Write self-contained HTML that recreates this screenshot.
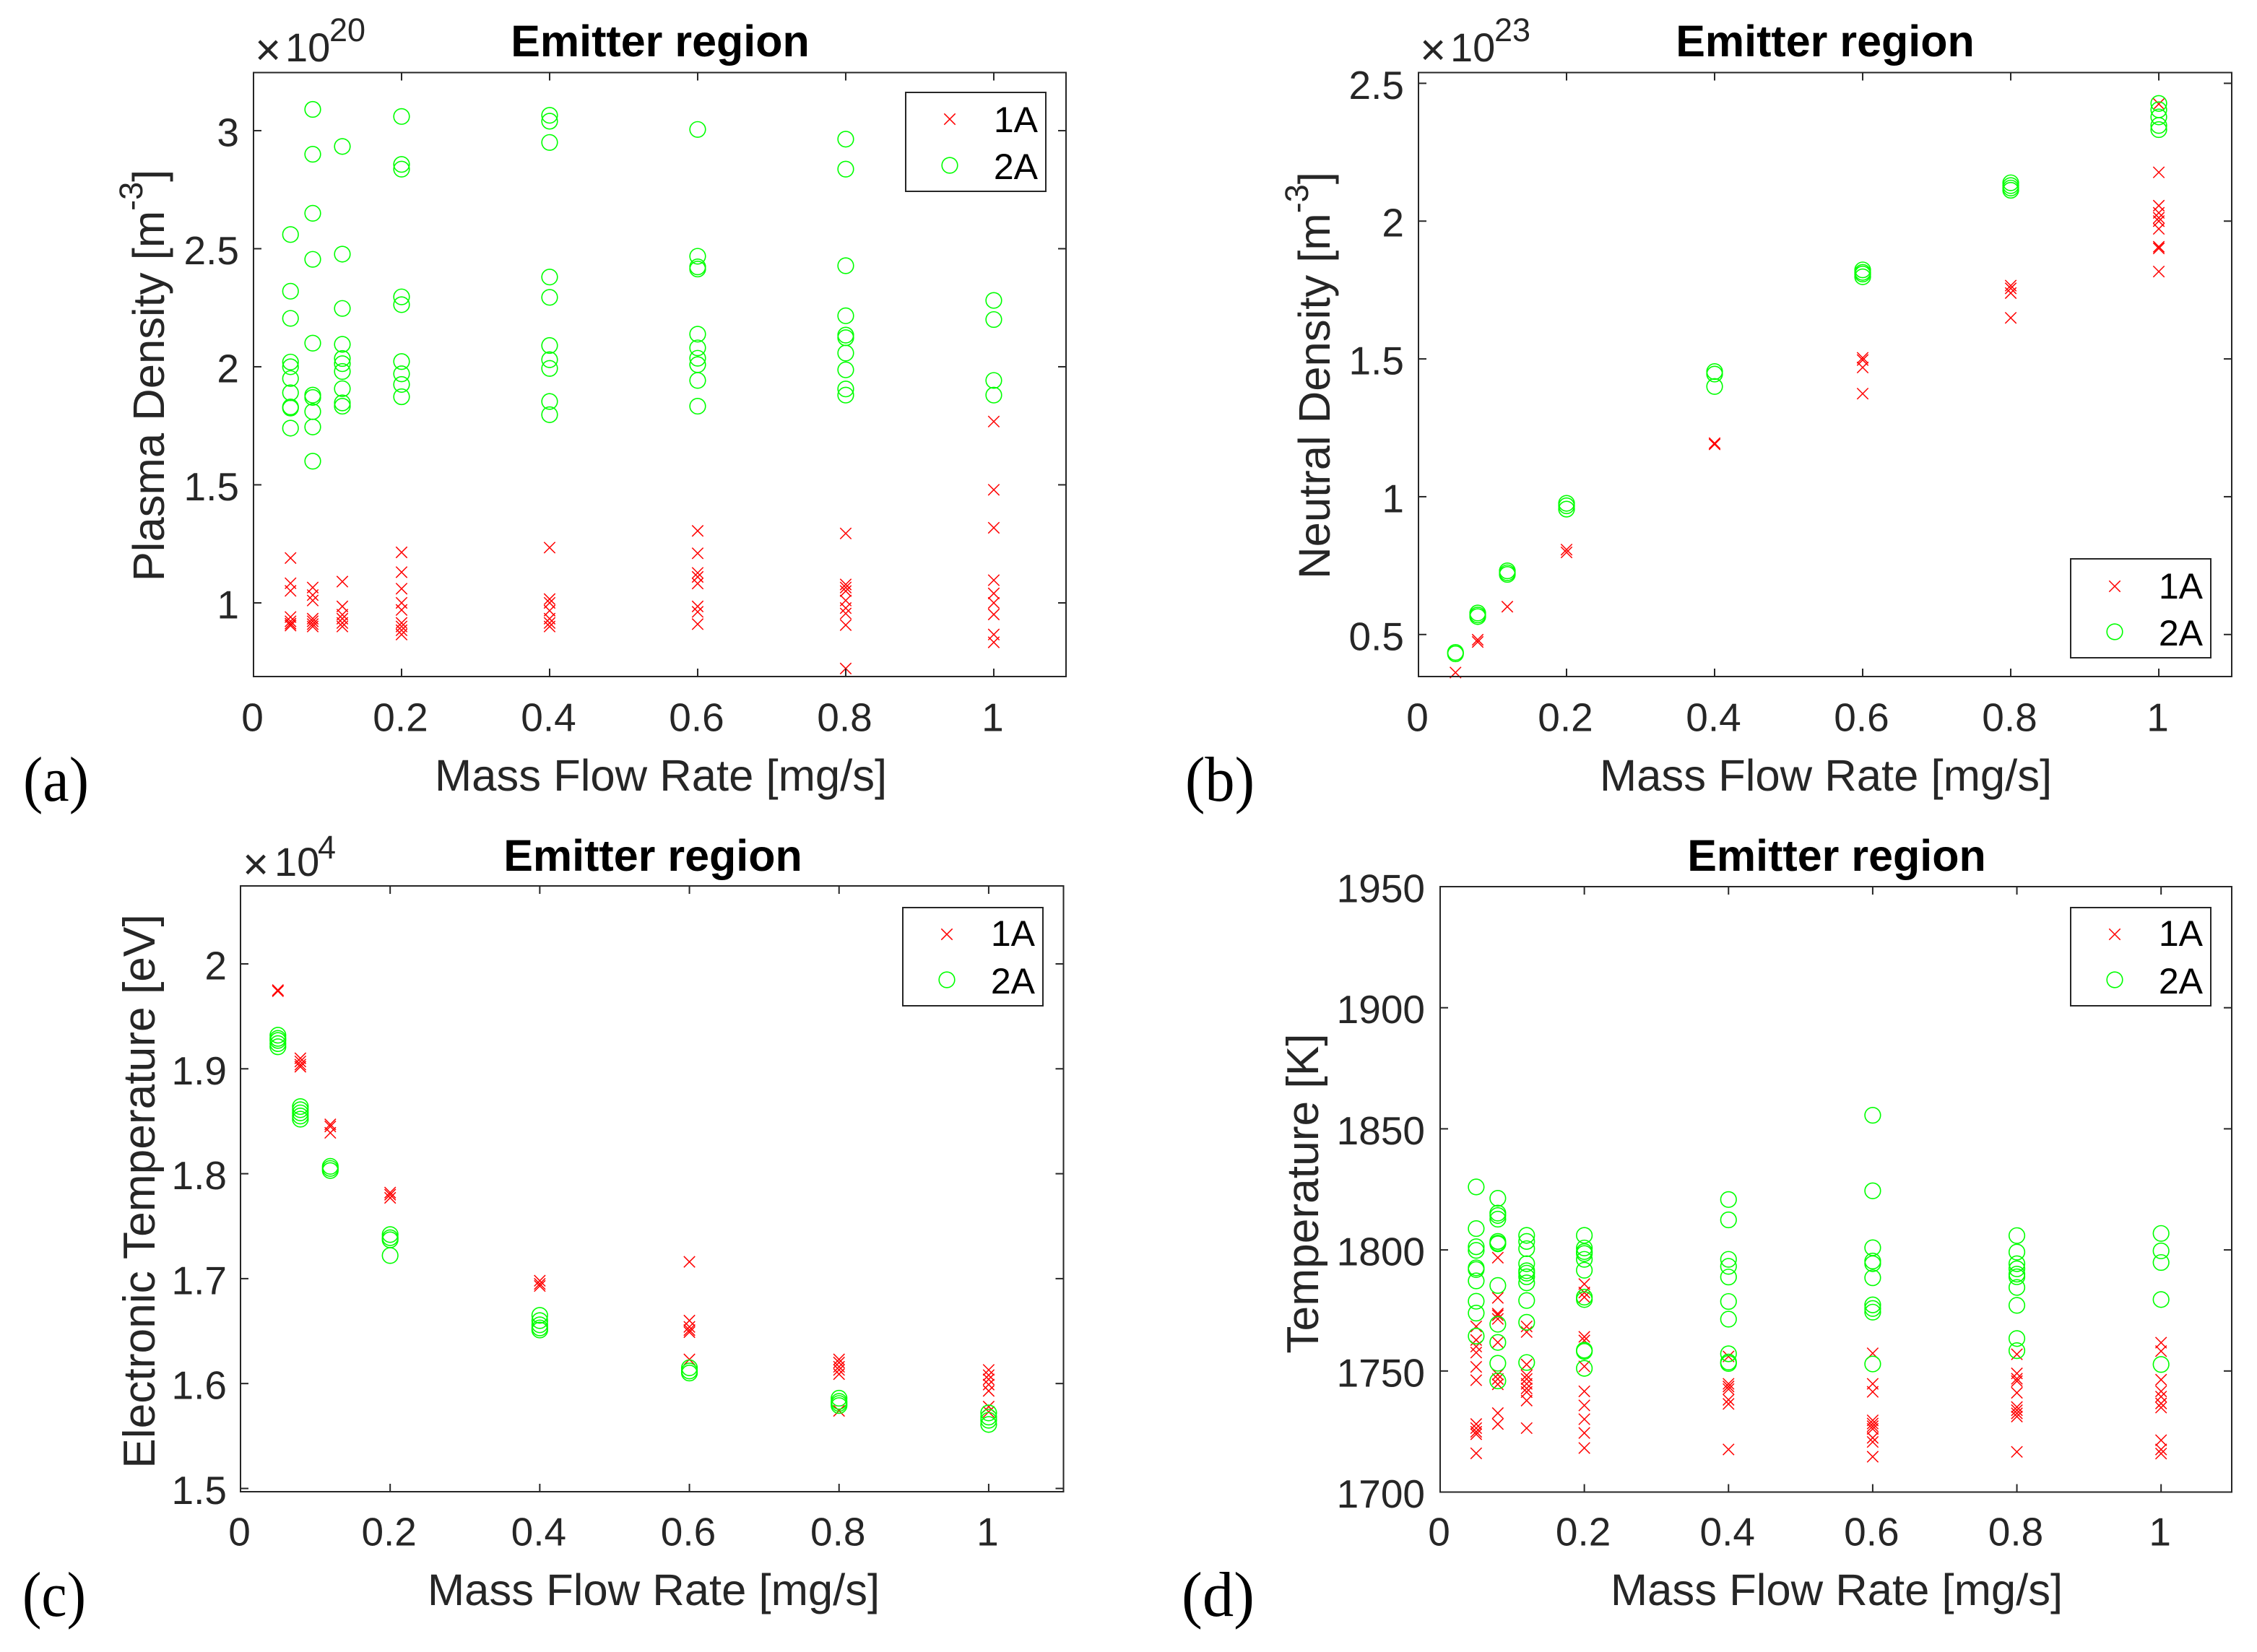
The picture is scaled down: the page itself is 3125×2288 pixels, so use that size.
<!DOCTYPE html>
<html lang="en">
<head>
<meta charset="utf-8">
<title>Emitter region charts</title>
<style>
html,body{margin:0;padding:0;background:#fff;}
svg{display:block;}
text{font-family:"Liberation Sans",sans-serif;fill:#262626;}
.title{font-size:61px;font-weight:bold;fill:#000;text-anchor:middle;}
.axis-label{font-size:61.6px;text-anchor:middle;}
.axis-label-wide{font-size:62.3px;text-anchor:middle;}
.exp{font-size:56px;}
.exp-times{font-size:62px;}
.sup{font-size:45px;}
.leg{font-size:50px;fill:#000;text-anchor:end;}
.panel-tag{font-family:"Liberation Serif",serif;font-size:88px;fill:#000;}
.tick-label{font-size:55px;}
.frame{fill:none;stroke:#262626;stroke-width:2;}
.legend-box{fill:#fff;stroke:#262626;stroke-width:2;}
.mk-x{stroke:#ff0000;stroke-width:1.5;fill:none;}
.mk-o{stroke:#00ff00;stroke-width:1.6;fill:none;}
</style>
</head>
<body>
<svg id="fig" xmlns="http://www.w3.org/2000/svg" width="3125" height="2288" viewBox="0 0 3125 2288">
<rect x="0" y="0" width="3125" height="2288" fill="#fff"/>

<!-- Panel a -->
<g>
  <g id="marks-a"></g>
  <rect class="frame" x="351" y="100.5" width="1125" height="836.5"/>
  <g id="ticks-a"></g>
  <text class="title" x="914" y="78">Emitter region</text>
  <text class="exp"><tspan class="exp-times" x="353" y="90">×</tspan><tspan x="395" y="85">10</tspan><tspan class="sup" x="456" y="57">20</tspan></text>
  <text class="axis-label" x="915" y="1095">Mass Flow Rate [mg/s]</text>
  <text class="axis-label" transform="translate(227,520) rotate(-90)">Plasma Density [m<tspan class="sup" dy="-30">-3</tspan><tspan dy="30">]</tspan></text>
  <text class="panel-tag" x="32" y="1109" textLength="91" lengthAdjust="spacingAndGlyphs">(a)</text>
  <g>
    <rect class="legend-box" x="1254" y="128" width="194" height="137"/>
    <path class="mk-x" d="M1307.3 157.3L1322.7 172.7M1307.3 172.7L1322.7 157.3"/>
    <circle class="mk-o" cx="1315" cy="229" r="10.8"/>
    <text class="leg" x="1437" y="183">1A</text>
    <text class="leg" x="1437" y="248">2A</text>
  </g>
</g>

<!-- Panel b -->
<g>
  <g id="marks-b"></g>
  <rect class="frame" x="1964" y="100.5" width="1126" height="836.5"/>
  <g id="ticks-b"></g>
  <text class="title" x="2527" y="78">Emitter region</text>
  <text class="exp"><tspan class="exp-times" x="1966" y="90">×</tspan><tspan x="2008" y="85">10</tspan><tspan class="sup" x="2069" y="57">23</tspan></text>
  <text class="axis-label" x="2528" y="1095">Mass Flow Rate [mg/s]</text>
  <text class="axis-label" transform="translate(1841,520) rotate(-90)">Neutral Density [m<tspan class="sup" dy="-30">-3</tspan><tspan dy="30">]</tspan></text>
  <text class="panel-tag" x="1641" y="1109" textLength="96" lengthAdjust="spacingAndGlyphs">(b)</text>
  <g>
    <rect class="legend-box" x="2867" y="774" width="194" height="137"/>
    <path class="mk-x" d="M2920.3 804.3L2935.7 819.7M2920.3 819.7L2935.7 804.3"/>
    <circle class="mk-o" cx="2928" cy="875" r="10.8"/>
    <text class="leg" x="3050" y="829">1A</text>
    <text class="leg" x="3050" y="894">2A</text>
  </g>
</g>

<!-- Panel c -->
<g>
  <g id="marks-c"></g>
  <rect class="frame" x="333" y="1227" width="1139.5" height="839"/>
  <g id="ticks-c"></g>
  <text class="title" x="904" y="1206">Emitter region</text>
  <text class="exp"><tspan class="exp-times" x="336" y="1218">×</tspan><tspan x="380" y="1213">10</tspan><tspan class="sup" x="440" y="1189">4</tspan></text>
  <text class="axis-label" x="905" y="2223">Mass Flow Rate [mg/s]</text>
  <text class="axis-label-wide" transform="translate(214,1650) rotate(-90)">Electronic Temperature [eV]</text>
  <text class="panel-tag" x="31" y="2238" textLength="88" lengthAdjust="spacingAndGlyphs">(c)</text>
  <g>
    <rect class="legend-box" x="1250" y="1257" width="194" height="136"/>
    <path class="mk-x" d="M1303.3 1286.3L1318.7 1301.7M1303.3 1301.7L1318.7 1286.3"/>
    <circle class="mk-o" cx="1311" cy="1357" r="10.8"/>
    <text class="leg" x="1433" y="1310">1A</text>
    <text class="leg" x="1433" y="1376">2A</text>
  </g>
</g>

<!-- Panel d -->
<g>
  <g id="marks-d"></g>
  <rect class="frame" x="1994" y="1228" width="1096" height="838.5"/>
  <g id="ticks-d"></g>
  <text class="title" x="2543" y="1206">Emitter region</text>
  <text class="axis-label" x="2543" y="2223">Mass Flow Rate [mg/s]</text>
  <text class="axis-label-wide" transform="translate(1825,1653) rotate(-90)">Temperature [K]</text>
  <text class="panel-tag" x="1636" y="2238" textLength="101" lengthAdjust="spacingAndGlyphs">(d)</text>
  <g>
    <rect class="legend-box" x="2867" y="1257" width="194" height="136"/>
    <path class="mk-x" d="M2920.3 1286.3L2935.7 1301.7M2920.3 1301.7L2935.7 1286.3"/>
    <circle class="mk-o" cx="2928" cy="1357" r="10.8"/>
    <text class="leg" x="3050" y="1310">1A</text>
    <text class="leg" x="3050" y="1376">2A</text>
  </g>
</g>
</svg>

<script>
// Shared categories and x tick labels
const massFlowRates = [0.05, 0.08, 0.12, 0.2, 0.4, 0.6, 0.8, 1];
const xTickValues = [0, 0.2, 0.4, 0.6, 0.8, 1];
const xTickLabels = ['0', '0.2', '0.4', '0.6', '0.8', '1'];

// Panel a: plasma density (x 1e20), one list per mass flow rate
const plasma1A = [
  [1.19, 1.083, 1.051, 0.94, 0.922, 0.904, 0.912],
  [1.065, 1.033, 1.01, 0.933, 0.922, 0.91, 0.9],
  [1.09, 0.985, 0.95, 0.933, 0.915, 0.9],
  [1.214, 1.13, 1.06, 1.0, 0.97, 0.915, 0.9, 0.884, 0.866],
  [1.234, 1.016, 1.0, 0.967, 0.933, 0.915, 0.9],
  [1.305, 1.21, 1.127, 1.11, 1.082, 0.985, 0.962, 0.91],
  [1.294, 1.078, 1.065, 1.05, 1.01, 0.978, 0.955, 0.906, 0.722],
  [1.768, 1.479, 1.318, 1.096, 1.04, 1.0, 0.951, 0.866, 0.833]
];
const plasma2A = [
  [2.56, 2.32, 2.205, 2.02, 2.0, 1.95, 1.89, 1.83, 1.825, 1.74],
  [3.09, 2.90, 2.65, 2.455, 2.10, 1.88, 1.87, 1.81, 1.745, 1.60],
  [2.933, 2.477, 2.247, 2.095, 2.035, 2.013, 1.98, 1.907, 1.847, 1.833],
  [3.06, 2.857, 2.837, 2.296, 2.263, 2.022, 1.97, 1.925, 1.873],
  [3.065, 3.04, 2.95, 2.38, 2.294, 2.09, 2.03, 1.993, 1.853, 1.797],
  [3.005, 2.468, 2.423, 2.414, 2.138, 2.08, 2.036, 2.009, 1.942, 1.833],
  [2.964, 2.837, 2.428, 2.216, 2.134, 2.123, 2.058, 1.987, 1.906, 1.88],
  [2.281, 2.2, 1.942, 1.88]
];
const plasmaTickValues = [1, 1.5, 2, 2.5, 3];
const plasmaTickLabels = ['1', '1.5', '2', '2.5', '3'];

// Panel b: neutral density (x 1e23)
const neutral1A = [
  [0.362],
  [0.481, 0.473],
  [0.601],
  [0.808, 0.798],
  [1.194, 1.19],
  [1.504, 1.496, 1.469, 1.374],
  [1.766, 1.756, 1.739, 1.649],
  [2.425, 2.177, 2.056, 2.03, 2.012, 2.0, 1.972, 1.907, 1.901, 1.817]
];
const neutral2A = [
  [0.435, 0.43],
  [0.578, 0.571, 0.565],
  [0.731, 0.724, 0.718],
  [0.976, 0.967, 0.955],
  [1.454, 1.445, 1.40],
  [1.823, 1.814, 1.808, 1.798],
  [2.139, 2.129, 2.12, 2.112],
  [2.427, 2.404, 2.378, 2.347, 2.332]
];
const neutralTickValues = [0.5, 1, 1.5, 2, 2.5];
const neutralTickLabels = ['0.5', '1', '1.5', '2', '2.5'];

// Panel c: electronic temperature (x 1e4)
const electron1A = [
  [1.975, 1.974],
  [1.91, 1.907, 1.904, 1.902],
  [1.847, 1.845, 1.839],
  [1.782, 1.78, 1.777],
  [1.698, 1.695, 1.693],
  [1.716, 1.66, 1.654, 1.651, 1.649, 1.623],
  [1.623, 1.62, 1.616, 1.613, 1.609, 1.574],
  [1.613, 1.608, 1.604, 1.599, 1.593, 1.578, 1.573]
];
const electron2A = [
  [1.932, 1.929, 1.927, 1.924, 1.921],
  [1.864, 1.861, 1.858, 1.855, 1.852],
  [1.807, 1.805, 1.803],
  [1.742, 1.739, 1.737, 1.722],
  [1.665, 1.66, 1.656, 1.653, 1.651],
  [1.615, 1.612, 1.61],
  [1.586, 1.583, 1.581, 1.579],
  [1.572, 1.568, 1.565, 1.561]
];
const electronTickValues = [1.5, 1.6, 1.7, 1.8, 1.9, 2];
const electronTickLabels = ['1.5', '1.6', '1.7', '1.8', '1.9', '2'];

// Panel d: temperature in kelvin
const temperature1A = [
  [1768.4, 1762.8, 1760.1, 1757.6, 1751.7, 1746.2, 1728.1, 1726.4, 1724.9, 1723.9, 1716],
  [1796.8, 1780.2, 1773.7, 1773, 1771.5, 1761.8, 1748.5, 1746.7, 1744.5, 1732.6, 1728.1],
  [1768.4, 1766.1, 1752.7, 1748.2, 1746.7, 1744.7, 1742.8, 1741.3, 1737.8, 1726.4],
  [1785.9, 1782.4, 1780.5, 1764.1, 1762.6, 1751.9, 1741.6, 1735.8, 1730.1, 1724.4, 1718.2],
  [1756, 1744.7, 1743.6, 1742.5, 1738.1, 1736.4, 1717.6],
  [1757.3, 1744.7, 1741.4, 1729.6, 1728.3, 1727.2, 1726.1, 1722.4, 1720.7, 1714.6],
  [1756.9, 1749, 1746.8, 1745.8, 1741, 1735.1, 1733.8, 1732.5, 1731.2, 1716.6],
  [1761.7, 1758.2, 1746.4, 1741.6, 1739.4, 1736.6, 1734.9, 1721.4, 1717.6, 1715.9]
];
const temperature2A = [
  [1826, 1808.8, 1801.3, 1799.8, 1792.6, 1791.9, 1787.2, 1778.8, 1773.9, 1764.4],
  [1821.3, 1815.2, 1814.2, 1812.7, 1803.5, 1802.8, 1802.5, 1785.3, 1769.3, 1761.8, 1753.2, 1745.9],
  [1806, 1803.5, 1800.5, 1794.3, 1791.4, 1790.4, 1788.9, 1786.4, 1779.1, 1770.1, 1753.5],
  [1806, 1800.8, 1799.3, 1798.5, 1796.1, 1791.6, 1780.5, 1779.5, 1758.6, 1758.1, 1751.1],
  [1820.8, 1812.4, 1796.1, 1793.2, 1788.8, 1778.7, 1771.4, 1757.1, 1753.7, 1753.1],
  [1855.6, 1824.4, 1800.9, 1795.4, 1794.3, 1788.5, 1777.3, 1775.8, 1774.3, 1752.9],
  [1805.9, 1799.1, 1794.3, 1792.2, 1790, 1788.9, 1784.5, 1777.1, 1763.4, 1758.4],
  [1806.8, 1799.6, 1794.8, 1779.5, 1752.7]
];
const temperatureTickValues = [1700, 1750, 1800, 1850, 1900, 1950];
const temperatureTickLabels = ['1700', '1750', '1800', '1850', '1900', '1950'];

const SVG_NS = 'http://www.w3.org/2000/svg';
const CROSS_HALF = 7.7;
const CIRCLE_R = 10.8;
const TICK_LEN = 11;

function makeXAxis(left, right, xMax) {
  return function (v) { return left + (v / xMax) * (right - left); };
}
function makeYAxis(top, bottom, yMin, yMax) {
  return function (v) { return bottom - ((v - yMin) / (yMax - yMin)) * (bottom - top); };
}

function addCross(group, x, y) {
  const el = document.createElementNS(SVG_NS, 'path');
  el.setAttribute('class', 'mk-x');
  el.setAttribute('d', 'M' + (x - CROSS_HALF) + ' ' + (y - CROSS_HALF) + 'L' + (x + CROSS_HALF) + ' ' + (y + CROSS_HALF) +
    'M' + (x - CROSS_HALF) + ' ' + (y + CROSS_HALF) + 'L' + (x + CROSS_HALF) + ' ' + (y - CROSS_HALF));
  
  
  group.appendChild(el);
}
function addCircle(group, x, y) {
  const el = document.createElementNS(SVG_NS, 'circle');
  el.setAttribute('class', 'mk-o');
  el.setAttribute('cx', x);
  el.setAttribute('cy', y);
  el.setAttribute('r', CIRCLE_R);
  
  
  group.appendChild(el);
}
function addTickLine(group, x1, y1, x2, y2) {
  const el = document.createElementNS(SVG_NS, 'line');
  el.setAttribute('x1', x1);
  el.setAttribute('y1', y1);
  el.setAttribute('x2', x2);
  el.setAttribute('y2', y2);
  el.setAttribute('stroke', '#262626');
  el.setAttribute('stroke-width', '2');
  
  
  group.appendChild(el);
}
function addTickText(group, x, y, anchor, label) {
  const el = document.createElementNS(SVG_NS, 'text');
  el.setAttribute('class', 'tick-label');
  el.setAttribute('x', x);
  el.setAttribute('y', y);
  el.setAttribute('text-anchor', anchor);
  el.textContent = label;
  
  
  group.appendChild(el);
}

function drawPanel(id, box, xMax, yMin, yMax, series1, series2, yVals, yLabels) {
  const xAxis = makeXAxis(box.left, box.right, xMax);
  const yAxis = makeYAxis(box.top, box.bottom, yMin, yMax);
  const marks = document.getElementById('marks-' + id);
  const ticks = document.getElementById('ticks-' + id);

  massFlowRates.forEach(function (rate, i) {
    series1[i].forEach(function (v) { addCross(marks, xAxis(rate), yAxis(v)); });
  });
  massFlowRates.forEach(function (rate, i) {
    series2[i].forEach(function (v) { addCircle(marks, xAxis(rate), yAxis(v)); });
  });

  xTickValues.forEach(function (v, i) {
    const x = xAxis(v);
    if (v > 0) {
      addTickLine(ticks, x, box.bottom, x, box.bottom - TICK_LEN);
      addTickLine(ticks, x, box.top, x, box.top + TICK_LEN);
    }
    addTickText(ticks, x - 1.5, box.xBase, 'middle', xTickLabels[i]);
  });
  yVals.forEach(function (v, i) {
    const y = yAxis(v);
    addTickLine(ticks, box.left, y, box.left + TICK_LEN, y);
    addTickLine(ticks, box.right, y, box.right - TICK_LEN, y);
    addTickText(ticks, box.labelX, y + 21.5, 'end', yLabels[i]);
  });
}

drawPanel('a', {left: 351, right: 1476, top: 100.5, bottom: 937, xBase: 1012.5, labelX: 331},
  1.0976, 0.688, 3.246, plasma1A, plasma2A, plasmaTickValues, plasmaTickLabels);
drawPanel('b', {left: 1964, right: 3090, top: 100.5, bottom: 937, xBase: 1012.5, labelX: 1944},
  1.0985, 0.3475, 2.539, neutral1A, neutral2A, neutralTickValues, neutralTickLabels);
drawPanel('c', {left: 333, right: 1472.5, top: 1227, bottom: 2066, xBase: 2140.5, labelX: 314},
  1.1, 1.4969, 2.0743, electron1A, electron2A, electronTickValues, electronTickLabels);
drawPanel('d', {left: 1994, right: 3090, top: 1228, bottom: 2066.5, xBase: 2140.5, labelX: 1973},
  1.098, 1700, 1950, temperature1A, temperature2A, temperatureTickValues, temperatureTickLabels);
</script>
</body>
</html>
